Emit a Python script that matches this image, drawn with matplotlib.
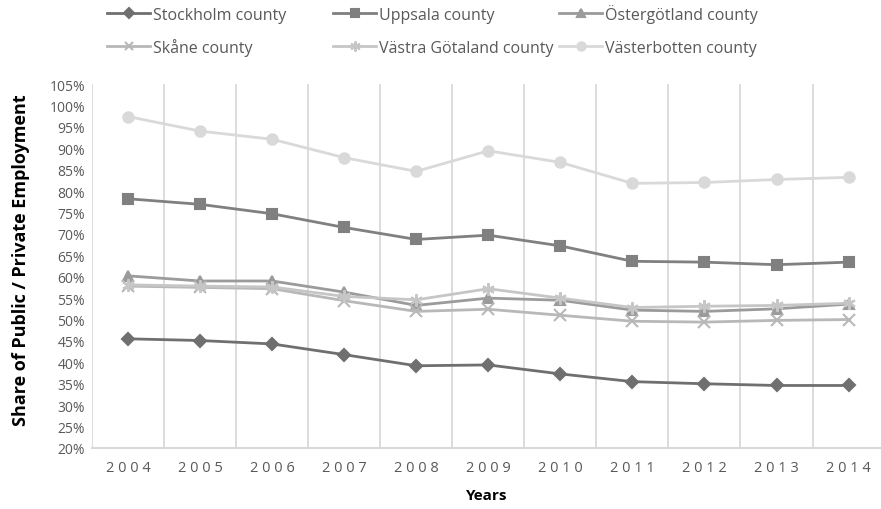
import matplotlib
matplotlib.use("Agg")
import matplotlib.pyplot as plt
import numpy as np

plt.rcParams['font.family'] = ['Open Sans', 'DejaVu Sans']

years = [2004, 2005, 2006, 2007, 2008, 2009, 2010, 2011, 2012, 2013, 2014]

stockholm = [45.5, 45.1, 44.3, 41.8, 39.2, 39.4, 37.3, 35.5, 35.0, 34.6, 34.6]
uppsala = [78.2, 76.9, 74.7, 71.5, 68.7, 69.7, 67.2, 63.6, 63.4, 62.8, 63.4]
ostergotland = [60.2, 59.0, 59.0, 56.4, 53.3, 55.0, 54.5, 52.2, 51.9, 52.5, 53.6]
skane = [57.8, 57.5, 57.2, 54.4, 51.9, 52.4, 51.0, 49.6, 49.4, 49.8, 50.0]
vastra_gotaland = [58.1, 57.8, 57.6, 55.4, 54.6, 57.2, 55.0, 52.8, 53.1, 53.3, 53.8]
vasterbotten = [97.4, 94.0, 92.1, 87.8, 84.6, 89.4, 86.7, 81.8, 82.0, 82.7, 83.2]

series = [
    ("Stockholm county", stockholm, "#6f6f6f", "D", 6.0),
    ("Uppsala county", uppsala, "#808080", "s", 7.5),
    ("Östergötland county", ostergotland, "#9b9b9b", "^", 7.0),
    ("Skåne county", skane, "#b8b8b8", "x", 8.0),
    ("Västra Götaland county", vastra_gotaland, "#c6c6c6", (6, 2, 0), 9.0),
    ("Västerbotten county", vasterbotten, "#d9d9d9", "o", 7.5),
]

fig = plt.figure(figsize=(8.81, 5.10), dpi=100)
ax = fig.add_axes([92 / 881, 61 / 510, 1 - 92 / 881, 364 / 510])

x = np.arange(len(years))
handles = []
for name, vals, col, mk, ms in series:
    h, = ax.plot(x, vals, color=col, lw=2.0, marker=mk, ms=ms,
                 mec=col, mfc=col, mew=1.5, label=name, zorder=3)
    handles.append(h)

ax.set_xlim(-0.5, 10.45)
ax.set_ylim(20, 105)

# vertical gridlines sit between the categories
for b in np.arange(-0.5, 11, 1.0):
    ax.axvline(b, color="#d9d9d9", lw=1.3, zorder=1)

ax.set_xticks(x)
ax.set_xticklabels([" ".join(str(y)) for y in years])
ax.set_yticks(np.arange(20, 106, 5))
ax.set_yticklabels([f"{v}%" for v in range(20, 106, 5)])
ax.tick_params(axis="both", length=0, colors="#595959")
ax.tick_params(axis="x", pad=9, labelsize=10.5)
ax.tick_params(axis="y", pad=5, labelsize=10)

for s in ["top", "right"]:
    ax.spines[s].set_visible(False)
ax.spines["left"].set_visible(False)
ax.spines["bottom"].set_color("#d9d9d9")
ax.spines["bottom"].set_linewidth(1.5)

ax.set_xlabel("Years", fontsize=11, fontweight="bold", labelpad=9)
ax.set_ylabel("Share of Public / Private Employment", fontsize=13,
              fontweight="bold", labelpad=14)
ax.yaxis.label.set_y(0.52)

# one legend per entry so rows line up whatever the glyph heights
col_x = [107, 333, 559]
row_y = [1 - 23.5 / 510, 1 - 57 / 510]
for i, h in enumerate(handles):
    cx = col_x[i % 3]
    ry = row_y[i // 3]
    fig.legend([h], [series[i][0]], loc="lower left",
               bbox_to_anchor=(cx / 881, ry), frameon=False,
               fontsize=11.5, handlelength=2.7, handletextpad=0.15,
               borderpad=0, borderaxespad=0,
               labelcolor="#595959", markerscale=0.8)

fig.savefig("out.png", dpi=100)
